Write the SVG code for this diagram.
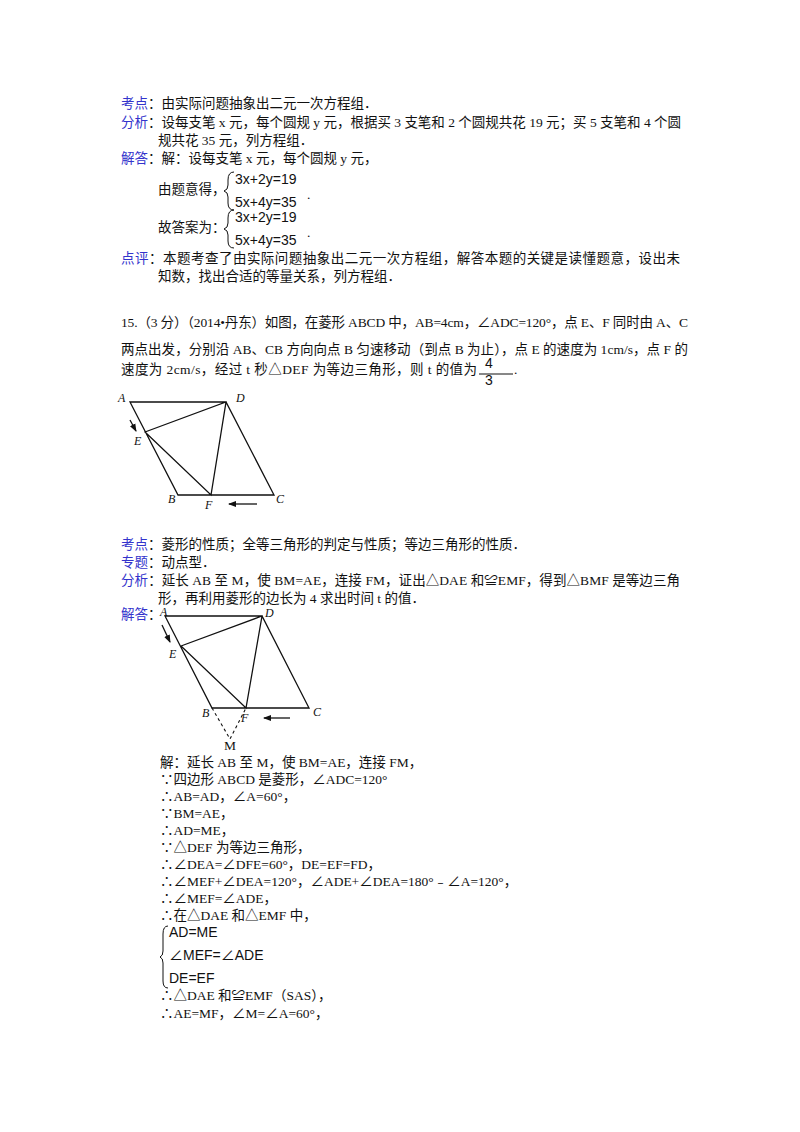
<svg xmlns="http://www.w3.org/2000/svg" width="800" height="1132" viewBox="0 0 800 1132">
<style>
text{font-family:"Liberation Serif","Noto Sans CJK SC",serif;font-size:13.5px;fill:#111}
.b{fill:#3333cc}
.m{font-family:"Liberation Sans","Noto Sans CJK SC",sans-serif;font-size:14px}
.l{font-style:italic;font-size:12px}
.ln{stroke:#111;stroke-width:1.3;fill:none}
.d{stroke:#111;stroke-width:1.1;fill:none;stroke-dasharray:3,3}
.br{stroke:#111;stroke-width:1;fill:none}
</style>
<defs><marker id="ah" markerWidth="8" markerHeight="8" refX="7" refY="4" orient="auto" markerUnits="userSpaceOnUse"><path d="M0,1 L8,4 L0,7 Z" fill="#111"/></marker></defs>
<rect width="800" height="1132" fill="#fff"/>
<g id="part1">
<text x="121" y="108"><tspan class="b">考点</tspan>：由实际问题抽象出二元一次方程组．</text>
<text x="121" y="127" textLength="560" lengthAdjust="spacing"><tspan class="b">分析</tspan>：设每支笔 x 元，每个圆规 y 元，根据买 3 支笔和 2 个圆规共花 19 元；买 5 支笔和 4 个圆</text>
<text x="158" y="145">规共花 35 元，列方程组．</text>
<text x="121" y="163"><tspan class="b">解答</tspan>：解：设每支笔 x 元，每个圆规 y 元，</text>
<text x="158" y="194">由题意得，</text>
<path class="br" d="M234,172 Q228,172 228,180 L228,185 Q228,190 224,191 Q228,192 228,197 L228,203 Q228,210 234,210"/>
<text class="m" x="235" y="184">3x+2y=19</text>
<text class="m" x="235" y="207">5x+4y=35</text><text x="307" y="199">.</text>
<text x="158" y="232">故答案为：</text>
<path class="br" d="M234,210 Q228,210 228,218 L228,223 Q228,228 224,229 Q228,230 228,235 L228,241 Q228,248 234,248"/>
<text class="m" x="235" y="222">3x+2y=19</text>
<text class="m" x="235" y="245">5x+4y=35</text><text x="307" y="237">.</text>
<text x="121" y="263" textLength="559" lengthAdjust="spacing"><tspan class="b">点评</tspan>：本题考查了由实际问题抽象出二元一次方程组，解答本题的关键是读懂题意，设出未</text>
<text x="158" y="281">知数，找出合适的等量关系，列方程组．</text>
</g>
<g id="question">
<text x="121" y="327" textLength="567" lengthAdjust="spacing">15.（3 分）（2014•丹东）如图，在菱形 ABCD 中，AB=4cm，∠ADC=120°，点 E、F 同时由 A、C</text>
<text x="121" y="354" textLength="567" lengthAdjust="spacing">两点出发，分别沿 AB、CB 方向向点 B 匀速移动（到点 B 为止），点 E 的速度为 1cm/s，点 F 的</text>
<text x="121" y="374" textLength="356" lengthAdjust="spacing">速度为 2cm/s，经过 t 秒△DEF 为等边三角形，则 t 的值为</text>
<line x1="479" y1="374" x2="513" y2="374" stroke="#111"/>
<text class="m" x="485" y="368" font-size="12">4</text>
<text class="m" x="485" y="385" font-size="12">3</text>
<text x="514" y="374">.</text>
</g>
<g id="figure1">
<path class="ln" d="M130,402 L226,402 L274,495 L178,495 Z M145,432 L226,402 L211,495 Z"/>
<line class="ln" x1="130" y1="420" x2="136" y2="431" marker-end="url(#ah)"/>
<line class="ln" x1="257" y1="504" x2="229" y2="504" marker-end="url(#ah)"/>
<text class="l" x="118" y="402">A</text><text class="l" x="236" y="402">D</text>
<text class="l" x="134" y="445">E</text><text class="l" x="168" y="503">B</text>
<text class="l" x="205" y="509">F</text><text class="l" x="276" y="503">C</text>
</g>
<g id="part2">
<text x="121" y="549"><tspan class="b">考点</tspan>：菱形的性质；全等三角形的判定与性质；等边三角形的性质．</text>
<text x="121" y="567"><tspan class="b">专题</tspan>：动点型．</text>
<text x="121" y="585" textLength="559" lengthAdjust="spacing"><tspan class="b">分析</tspan>：延长 AB 至 M，使 BM=AE，连接 FM，证出△DAE 和≌EMF，得到△BMF 是等边三角</text>
<text x="158" y="603">形，再利用菱形的边长为 4 求出时间 t 的值．</text>
<text class="b" x="121" y="619">解答</text><text x="148" y="619">：</text>
</g>
<g id="figure2">
<path class="ln" d="M165,616 L262,616 L309,708 L212,708 Z M181,646 L262,616 L246,708 Z"/>
<path class="d" d="M212,708 L230,739 L246,708"/>
<line class="ln" x1="162" y1="625" x2="170" y2="642" marker-end="url(#ah)"/>
<line class="ln" x1="290" y1="718" x2="264" y2="718" marker-end="url(#ah)"/>
<text class="l" x="160" y="616">A</text><text class="l" x="265" y="617">D</text>
<text class="l" x="169" y="658">E</text><text class="l" x="202" y="717">B</text>
<text class="l" x="241" y="722">F</text><text class="l" x="313" y="716">C</text>
<text x="224" y="750" font-size="12">M</text>
</g>
<g id="solution">
<text x="160" y="767">解：延长 AB 至 M，使 BM=AE，连接 FM，</text>
<text x="160" y="784">∵四边形 ABCD 是菱形，∠ADC=120°</text>
<text x="160" y="801">∴AB=AD，∠A=60°，</text>
<text x="160" y="818">∵BM=AE，</text>
<text x="160" y="835">∴AD=ME，</text>
<text x="160" y="852">∵△DEF 为等边三角形，</text>
<text x="160" y="869">∴∠DEA=∠DFE=60°，DE=EF=FD，</text>
<text x="160" y="886">∴∠MEF+∠DEA=120°，∠ADE+∠DEA=180°﹣∠A=120°，</text>
<text x="160" y="903">∴∠MEF=∠ADE，</text>
<text x="160" y="920">∴在△DAE 和△EMF 中，</text>
<path class="br" d="M168,926 Q163,926 163,934 L163,951 Q163,956 160,957 Q163,958 163,963 L163,981 Q163,988 168,988"/>
<text class="m" x="169" y="937" font-size="13">AD=ME</text>
<text class="m" x="169" y="960" font-size="13">∠MEF=∠ADE</text>
<text class="m" x="169" y="983" font-size="13">DE=EF</text>
<text x="160" y="1000">∴△DAE 和≌EMF（SAS），</text>
<text x="160" y="1018">∴AE=MF，∠M=∠A=60°，</text>
</g>
</svg>
